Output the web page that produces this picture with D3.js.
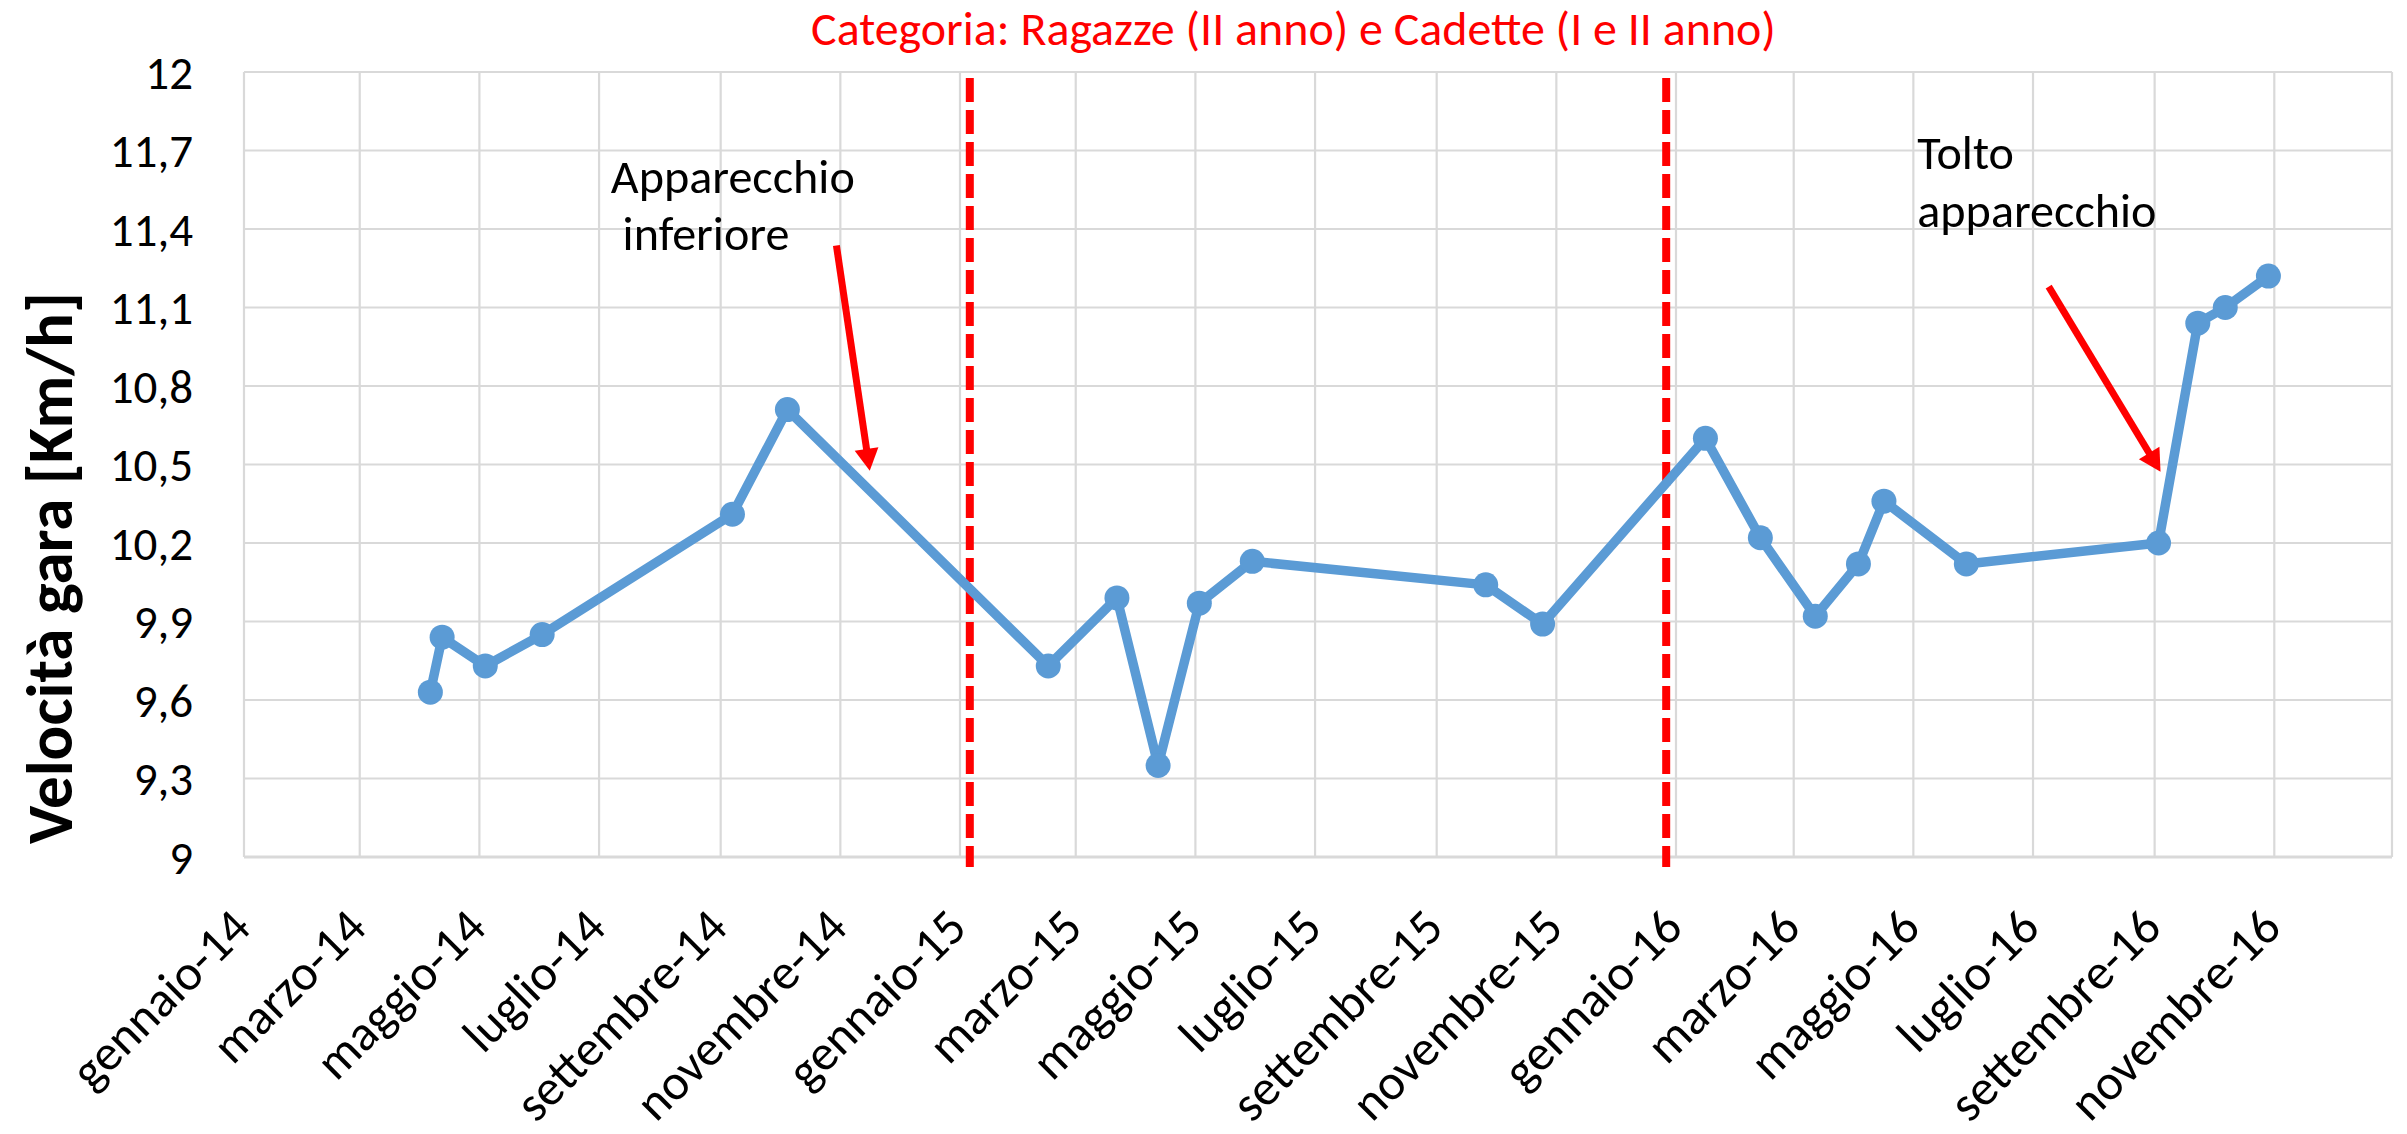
<!DOCTYPE html>
<html>
<head>
<meta charset="utf-8">
<script src="https://cdn.jsdelivr.net/npm/d3@7"></script>
<style>
  html, body { margin: 0; padding: 0; background: #fff; }
  svg { display: block; }
  text { font-family: 'Carlito', 'Lato', sans-serif; }
</style>
</head>
<body>
<svg id="chart" width="2407" height="1134"></svg>
<script>
// ---- data ----
const raceDates = ["2014-04-06","2014-04-12","2014-05-04","2014-06-02","2014-09-07","2014-10-05",
  "2015-02-15","2015-03-22","2015-04-12","2015-05-03","2015-05-30","2015-09-26","2015-10-25",
  "2016-01-16","2016-02-13","2016-03-12","2016-04-03","2016-04-16","2016-05-28","2016-09-03",
  "2016-09-23","2016-10-07","2016-10-29"];
const raceSpeeds = [9.63, 9.84, 9.73, 9.85, 10.31, 10.71,
  9.73, 9.99, 9.35, 9.97, 10.13, 10.04, 9.89,
  10.60, 10.22, 9.92, 10.12, 10.36, 10.12, 10.20,
  11.04, 11.10, 11.22];
const xTickDates = ["2014-01-01","2014-03-01","2014-05-01","2014-07-01","2014-09-01","2014-11-01",
  "2015-01-01","2015-03-01","2015-05-01","2015-07-01","2015-09-01","2015-11-01",
  "2016-01-01","2016-03-01","2016-05-01","2016-07-01","2016-09-01","2016-11-01"];
const xTickLabels = ["gennaio-14","marzo-14","maggio-14","luglio-14","settembre-14","novembre-14",
  "gennaio-15","marzo-15","maggio-15","luglio-15","settembre-15","novembre-15",
  "gennaio-16","marzo-16","maggio-16","luglio-16","settembre-16","novembre-16"];
const yTicks = [9, 9.3, 9.6, 9.9, 10.2, 10.5, 10.8, 11.1, 11.4, 11.7, 12];
const yTickLabels = ["9","9,3","9,6","9,9","10,2","10,5","10,8","11,1","11,4","11,7","12"];
const xDomain = ["2014-01-01","2016-12-31"];
const yDomain = [9, 12];
const categoryDates = ["2015-01-06","2015-12-27"];
const titleText = "Categoria: Ragazze (II anno) e Cadette (I e II anno)";
const yTitleText = "Velocità gara [Km/h]";
const notes = [
  { lines: ["Apparecchio", "inferiore"], at: [["2014-07-07", 11.538], ["2014-07-13", 11.320]],
    arrow: [["2014-10-30", 11.337], ["2014-11-16", 10.476]] },
  { lines: ["Tolto", "apparecchio"], at: [["2016-05-03", 11.628], ["2016-05-03", 11.409]],
    arrow: [["2016-07-09", 11.180], ["2016-09-04", 10.472]] }
];

// ---- setup ----
const parse = d3.timeParse("%Y-%m-%d");
const svg = d3.select("#chart");
const L = 244, R = 2392, T = 72, B = 857;

const x = d3.scaleTime().domain(xDomain.map(parse)).range([L, R]);
const y = d3.scaleLinear().domain(yDomain).range([B, T]);

const grid = svg.append("g");
// horizontal gridlines
grid.selectAll("line.h").data(yTicks).join("line")
  .attr("x1", L).attr("x2", R)
  .attr("y1", d => y(d)).attr("y2", d => y(d))
  .attr("stroke", "#D9D9D9").attr("stroke-width", 2.2);
// vertical gridlines
const vLines = xTickDates.map(parse).concat([x.domain()[1]]);
grid.selectAll("line.v").data(vLines).join("line")
  .attr("x1", d => x(d)).attr("x2", d => x(d))
  .attr("y1", T).attr("y2", B)
  .attr("stroke", "#D9D9D9").attr("stroke-width", 2.2);
// bottom axis line
svg.append("line").attr("x1", L).attr("x2", R).attr("y1", B).attr("y2", B)
  .attr("stroke", "#D9D9D9").attr("stroke-width", 3);

// y tick labels
const yFs = 47;
svg.append("g").selectAll("text").data(yTicks).join("text")
  .attr("x", 193).attr("y", d => y(d) + yFs * 0.355)
  .attr("text-anchor", "end").attr("font-size", yFs).attr("fill", "#000")
  .text((d, i) => yTickLabels[i]);

// x tick labels
const xFs = 50;
svg.append("g").selectAll("text").data(xTickDates).join("text")
  .attr("transform", d => `translate(${x(parse(d)) + 9},930) rotate(-45)`)
  .attr("text-anchor", "end").attr("font-size", xFs).attr("fill", "#000")
  .text((d, i) => xTickLabels[i]);

// category dashed lines
svg.append("g").selectAll("line").data(categoryDates).join("line")
  .attr("x1", d => x(parse(d))).attr("x2", d => x(parse(d)))
  .attr("y1", T + 6).attr("y2", B + 10)
  .attr("stroke", "#FF0000").attr("stroke-width", 8).attr("stroke-dasharray", "24 8");

// series
const pts = raceDates.map((d, i) => ({ date: parse(d), v: raceSpeeds[i] }));
const line = d3.line().x(d => x(d.date)).y(d => y(d.v));
svg.append("path").datum(pts).attr("d", line)
  .attr("fill", "none").attr("stroke", "#5B9BD5").attr("stroke-width", 9.5)
  .attr("stroke-linejoin", "round");
svg.append("g").selectAll("circle").data(pts).join("circle")
  .attr("cx", d => x(d.date)).attr("cy", d => y(d.v)).attr("r", 12.5)
  .attr("fill", "#5B9BD5");

// fitting helper
function fitWidth(sel, target) {
  const w = sel.node().getComputedTextLength();
  const fs = parseFloat(sel.attr("font-size"));
  sel.attr("font-size", fs * target / w);
  return fs * target / w;
}

// title
const title = svg.append("text").attr("x", 1293.5).attr("y", 45)
  .attr("text-anchor", "middle").attr("font-size", 44).attr("fill", "#FF0000")
  .text(titleText);
fitWidth(title, 965);

// y title
const yt = svg.append("text").attr("transform", "translate(72,568) rotate(-90)")
  .attr("text-anchor", "middle").attr("font-size", 60).attr("font-weight", "bold").attr("fill", "#000")
  .text(yTitleText);
fitWidth(yt, 552);

// annotations
const noteFs = (() => {
  const t = svg.append("text").attr("font-size", 44).text(notes[0].lines[0]);
  const fs = fitWidth(t, 244);
  t.remove();
  return fs;
})();
notes.forEach(n => {
  n.lines.forEach((s, i) => {
    svg.append("text").attr("x", x(parse(n.at[i][0]))).attr("y", y(n.at[i][1]))
      .attr("font-size", noteFs).attr("fill", "#000").text(s);
  });
  const x1 = x(parse(n.arrow[0][0])), y1 = y(n.arrow[0][1]);
  const x2 = x(parse(n.arrow[1][0])), y2 = y(n.arrow[1][1]);
  const len = Math.hypot(x2 - x1, y2 - y1), ux = (x2 - x1) / len, uy = (y2 - y1) / len;
  const hl = 22, hw = 12;
  const bx = x2 - ux * hl, by = y2 - uy * hl;
  svg.append("line").attr("x1", x1).attr("y1", y1).attr("x2", bx + ux * 2).attr("y2", by + uy * 2)
    .attr("stroke", "#FF0000").attr("stroke-width", 7);
  svg.append("path")
    .attr("d", `M${x2},${y2} L${bx - uy * hw},${by + ux * hw} L${bx + uy * hw},${by - ux * hw} Z`)
    .attr("fill", "#FF0000");
});
</script>
</body>
</html>
